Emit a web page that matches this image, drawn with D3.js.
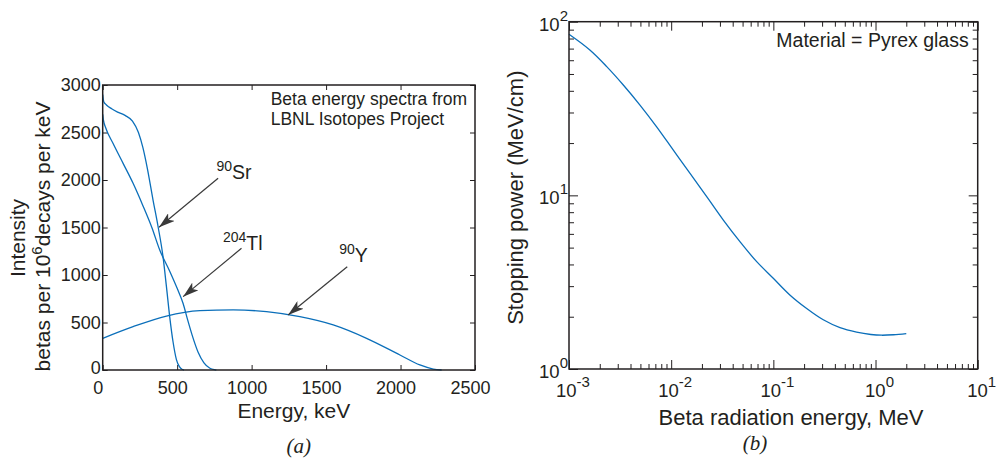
<!DOCTYPE html>
<html>
<head>
<meta charset="utf-8">
<script src="https://cdn.jsdelivr.net/npm/d3@7"></script>
<style>
  body { margin: 0; background: #fff; }
  text { font-family: "Liberation Sans", Arial, Helvetica, sans-serif; fill: #231f20; }
  .tick line, .frame { stroke: #231f20; }
</style>
</head>
<body>
<div id="chart"></div>
<script>
// (a) beta spectra, keV vs betas per 1e6 decays per keV
var srEnergy = [0, 8, 25, 60, 100, 150, 200, 240, 270, 300, 338, 372, 405, 428, 450, 472, 495, 515, 535, 546];
var srIntensity = [2900, 2820, 2790, 2750, 2715, 2680, 2620, 2500, 2340, 2120, 1789, 1508, 1193, 877, 560, 300, 110, 35, 5, 0];

var tlEnergy = [0, 5, 20, 69, 137, 204, 270, 330, 383, 450, 500, 540, 570, 600, 640, 680, 720, 750, 763];
var tlIntensity = [2690, 2630, 2550, 2386, 2175, 1965, 1730, 1500, 1263, 1040, 860, 700, 530, 370, 190, 75, 18, 3, 0];

var yEnergy = [0, 204, 428, 652, 876, 1100, 1324, 1548, 1772, 1996, 2130, 2220, 2276];
var yIntensity = [333, 456, 568, 624, 632, 614, 561, 474, 333, 158, 53, 10, 0];

var energyTicks = [0, 500, 1000, 1500, 2000, 2500];
var intensityTicks = [0, 500, 1000, 1500, 2000, 2500, 3000];

// annotations: [sup, name, textE, textI, fromE, fromI, tipE, tipI]
var isotopeLabels = [
  ["90", "Sr", 764, 2011, 775, 2018, 378, 1502],
  ["204", "Tl", 808, 1263, 932, 1281, 540, 772],
  ["90", "Y", 1588, 1140, 1642, 1087, 1245, 579]
];

// (b) stopping power in Pyrex glass
var betaEnergy = [0.001, 0.0016, 0.00234, 0.0034, 0.00495, 0.00721, 0.0105, 0.0153, 0.0231, 0.0324, 0.0471, 0.0687, 0.0998, 0.145, 0.212, 0.308, 0.449, 0.653, 0.9, 1.15, 1.5, 2.0];
var stoppingPower = [84.6, 68.7, 55.1, 43.2, 33.1, 24.8, 18.2, 13.4, 9.53, 7.2, 5.41, 4.15, 3.33, 2.67, 2.23, 1.92, 1.73, 1.63, 1.58, 1.565, 1.575, 1.60];

var xExponents = [-3, -2, -1, 0, 1];
var yExponents = [0, 1, 2];

var blue = "#0b6fba";
var svg = d3.select("#chart").append("svg")
    .attr("width", 996)
    .attr("height", 461);

svg.append("defs").append("marker")
    .attr("id", "head")
    .attr("viewBox", "0 0 16 10")
    .attr("refX", 16).attr("refY", 5)
    .attr("markerWidth", 16).attr("markerHeight", 10)
    .attr("markerUnits", "userSpaceOnUse")
    .attr("orient", "auto")
  .append("path")
    .attr("d", "M0,0 L16,5 L0,10 L4,5 Z")
    .attr("fill", "#3a3a3a");

// ---------- panel (a) ----------
var wA = 372.3, hA = 285;
var gA = svg.append("g").attr("transform", "translate(102.7,85)");

var xA = d3.scaleLinear().domain([0, 2500]).range([0, wA]);
var yA = d3.scaleLinear().domain([0, 3000]).range([hA, 0]);

var fontTick = "18px";
gA.append("g").attr("transform", `translate(0,${hA})`)
    .call(d3.axisBottom(xA).tickValues(energyTicks).tickSize(-5).tickSizeOuter(0).tickPadding(11).tickFormat(d3.format("d")))
    .call(g => g.select(".domain").remove())
    .selectAll("text").attr("dx", -5).style("font-size", fontTick);
gA.append("g")
    .call(d3.axisTop(xA).tickValues(energyTicks).tickSize(-5).tickSizeOuter(0).tickFormat(""))
    .call(g => g.select(".domain").remove());
gA.append("g")
    .call(d3.axisLeft(yA).tickValues(intensityTicks).tickSize(-5).tickSizeOuter(0).tickPadding(2).tickFormat(d3.format("d")))
    .call(g => g.select(".domain").remove())
    .selectAll("text").style("font-size", fontTick)
    .attr("dy", d => d === 0 ? "0.2em" : "0.32em");
gA.append("g").attr("transform", `translate(${wA},0)`)
    .call(d3.axisRight(yA).tickValues(intensityTicks).tickSize(-5).tickSizeOuter(0).tickFormat(""))
    .call(g => g.select(".domain").remove());
gA.selectAll(".tick text").attr("fill", "#231f20").style("font-family", "Liberation Sans, Arial, sans-serif");
gA.selectAll(".tick line").attr("stroke", "#231f20");

var lineA = d3.line().x(d => xA(d[0])).y(d => yA(d[1])).curve(d3.curveMonotoneX);
[[srEnergy, srIntensity], [tlEnergy, tlIntensity], [yEnergy, yIntensity]].forEach(s => {
  gA.append("path")
      .datum(d3.zip(s[0], s[1]))
      .attr("d", lineA)
      .attr("fill", "none")
      .attr("stroke", blue)
      .attr("stroke-width", 1.3);
});

gA.append("rect").attr("class", "frame")
    .attr("width", wA).attr("height", hA)
    .attr("fill", "none").attr("stroke-width", 1.5);

isotopeLabels.forEach(a => {
  gA.append("line")
      .attr("x1", xA(a[4])).attr("y1", yA(a[5]))
      .attr("x2", xA(a[6])).attr("y2", yA(a[7]))
      .attr("stroke", "#3a3a3a").attr("stroke-width", 1.2)
      .attr("marker-end", "url(#head)");
  var t = gA.append("text").attr("x", xA(a[2])).attr("y", yA(a[3]));
  t.append("tspan").text(a[0]).style("font-size", "14px").attr("dy", -8);
  t.append("tspan").text(a[1]).style("font-size", "19.5px").attr("dy", 8);
});

gA.append("text").attr("x", 168).attr("y", 20)
    .style("font-size", "17.5px").text("Beta energy spectra from");
gA.append("text").attr("x", 168).attr("y", 40)
    .style("font-size", "17.5px").text("LBNL Isotopes Project");

gA.append("text").attr("x", wA / 2 + 5).attr("y", 333).attr("text-anchor", "middle")
    .style("font-size", "21px").text("Energy, keV");
gA.append("text").attr("x", wA / 2 + 10).attr("y", 368).attr("text-anchor", "middle")
    .style("font-family", "Liberation Serif, Times New Roman, serif").style("font-style", "italic")
    .style("font-size", "21px").text("(a)");

gA.append("text").attr("transform", "rotate(-90)").attr("text-anchor", "middle")
    .attr("x", -153).attr("y", -78).style("font-size", "21px").text("Intensity");
var yl2 = gA.append("text").attr("transform", "rotate(-90)").attr("text-anchor", "middle")
    .attr("x", -151.5).attr("y", -53).style("font-size", "21px");
yl2.append("tspan").text("betas per 10");
yl2.append("tspan").text("6").style("font-size", "15px").attr("dy", -8);
yl2.append("tspan").text("decays per keV").attr("dy", 8);

// ---------- panel (b) ----------
var wB = 408.7, hB = 347.3;
var gB = svg.append("g").attr("transform", "translate(569,21.7)");

var xB = d3.scaleLog().domain([1e-3, 10]).range([0, wB]);
var yB = d3.scaleLog().domain([1, 100]).range([hB, 0]);

var xMajor = xExponents.map(e => Math.pow(10, e));
var yMajor = yExponents.map(e => Math.pow(10, e));
var xMinor = [], yMinor = [];
xExponents.slice(0, -1).forEach(e => d3.range(2, 10).forEach(m => xMinor.push(m * Math.pow(10, e))));
yExponents.slice(0, -1).forEach(e => d3.range(2, 10).forEach(m => yMinor.push(m * Math.pow(10, e))));

function ticks(axis, vals, len, tr) {
  var g = gB.append("g");
  if (tr) g.attr("transform", tr);
  g.call(axis.tickValues(vals).tickSize(-len).tickSizeOuter(0).tickFormat(""))
   .call(g => g.select(".domain").remove());
  g.selectAll(".tick line").attr("stroke", "#231f20");
}
[[xMajor, 9], [xMinor, 5]].forEach(p => {
  ticks(d3.axisBottom(xB), p[0], p[1], `translate(0,${hB})`);
  ticks(d3.axisTop(xB), p[0], p[1]);
});
[[yMajor, 9], [yMinor, 5]].forEach(p => {
  ticks(d3.axisLeft(yB), p[0], p[1]);
  ticks(d3.axisRight(yB), p[0], p[1], `translate(${wB},0)`);
});

xExponents.forEach(e => {
  var t = gB.append("text").attr("x", xB(Math.pow(10, e)) + 4).attr("y", hB + 28)
      .attr("text-anchor", "middle").style("font-size", "18.5px");
  t.append("tspan").text("10");
  t.append("tspan").text(e < 0 ? "-" + (-e) : e).style("font-size", "15px").attr("dy", -10);
});
yExponents.forEach(e => {
  var t = gB.append("text").attr("x", -1).attr("y", yB(Math.pow(10, e)) + 9)
      .attr("text-anchor", "end").style("font-size", "18.5px");
  t.append("tspan").text("10");
  t.append("tspan").text(e).style("font-size", "15px").attr("dy", -10);
});

var lineB = d3.line().x(d => xB(d[0])).y(d => yB(d[1])).curve(d3.curveCatmullRom.alpha(0.5));
gB.append("path")
    .datum(d3.zip(betaEnergy, stoppingPower))
    .attr("d", lineB)
    .attr("fill", "none")
    .attr("stroke", blue)
    .attr("stroke-width", 1.3);

gB.append("rect").attr("class", "frame")
    .attr("width", wB).attr("height", hB)
    .attr("fill", "none").attr("stroke-width", 1.5);

gB.append("text").attr("x", wB - 9).attr("y", 25).attr("text-anchor", "end")
    .style("font-size", "19.5px").text("Material = Pyrex glass");

gB.append("text").attr("x", 222).attr("y", 403).attr("text-anchor", "middle")
    .style("font-size", "22px").text("Beta radiation energy, MeV");
gB.append("text").attr("x", 186).attr("y", 428).attr("text-anchor", "middle")
    .style("font-family", "Liberation Serif, Times New Roman, serif").style("font-style", "italic")
    .style("font-size", "21px").text("(b)");
gB.append("text").attr("transform", "rotate(-90)").attr("text-anchor", "middle")
    .attr("x", -176).attr("y", -46).style("font-size", "22px").text("Stopping power (MeV/cm)");
</script>
</body>
</html>
